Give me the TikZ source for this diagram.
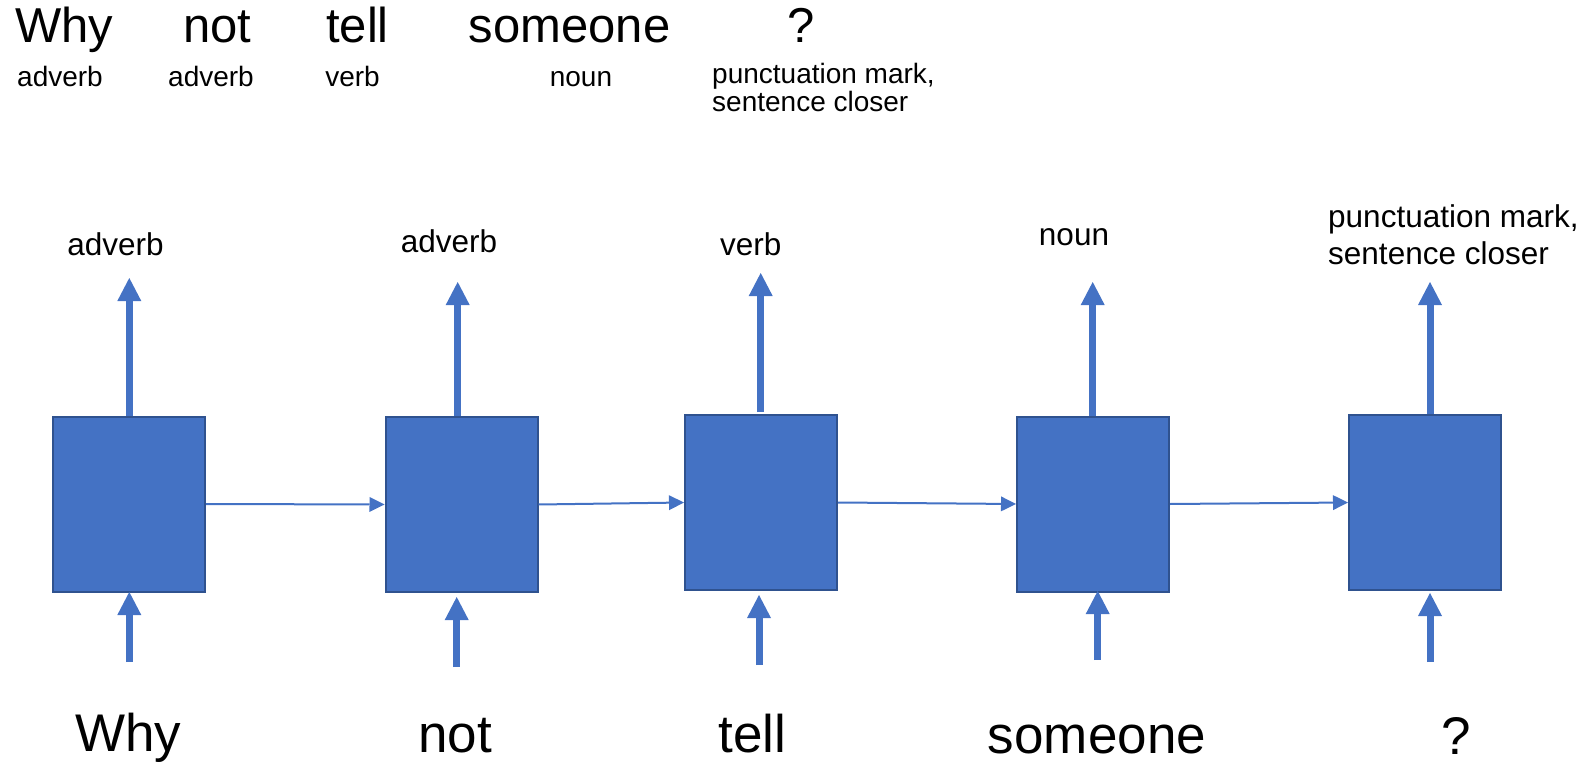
\documentclass[tikz,border=0pt]{standalone}
\usepackage{fontspec}
\setmainfont{Liberation Sans}
\usetikzlibrary{arrows.meta}
\definecolor{obl}{HTML}{4472C4}
\definecolor{oedge}{HTML}{2F528F}
\begin{document}
\begin{tikzpicture}[x=1pt,y=-1pt,
  cell/.style={draw=oedge,line width=2pt,fill=obl,minimum width=152pt,minimum height=175pt,inner sep=0pt},
  bigarrow/.style={draw=obl,line width=7pt,-{Triangle[length=23pt,width=24pt,line width=0pt]}},
  thinarrow/.style={draw=obl,line width=2pt,-{Triangle[length=15pt,width=15pt,line width=0pt]}},
  topword/.style={inner sep=0pt,anchor=base,font=\fontsize{49}{49}\selectfont},
  topsmall/.style={inner sep=0pt,anchor=base,font=\fontsize{28}{28}\selectfont},
  outlbl/.style={inner sep=0pt,anchor=base,font=\fontsize{31.5}{36}\selectfont},
  inword/.style={inner sep=0pt,anchor=base,font=\fontsize{53}{53}\selectfont}]
\useasboundingbox (0,0) rectangle (1585,762);

% top sentence
\node[topword] (tw1) at (64,43) {Why};
\node[topword] (tw2) at (217.5,43) {not};
\node[topword] (tw3) at (357.5,43) {tell};
\node[topword] (tw4) at (569.5,43) {someone};
\node[topword] (tw5) at (801,43) {?};
\node[topsmall] (ts1) at (60,87) {adverb};
\node[topsmall] (ts2) at (211,87) {adverb};
\node[topsmall] (ts3) at (352.5,87) {verb};
\node[topsmall] (ts4) at (581,87) {noun};
\node[topsmall,anchor=base west,align=left] (ts5) at (712,112) {punctuation mark,\\sentence closer};

% cells
\node[cell] (b1) at (129,504) {};
\node[cell] (b2) at (461.5,504.5) {};
\node[cell] (b3) at (761,502.5) {};
\node[cell] (b4) at (1093,504) {};
\node[cell] (b5) at (1425,502.5) {};

% output labels
\node[outlbl] (o1) at (115.5,255) {adverb};
\node[outlbl] (o2) at (449,252) {adverb};
\node[outlbl] (o3) at (750.7,255) {verb};
\node[outlbl] (o4) at (1074,245) {noun};
\node[outlbl,anchor=base west,align=left] (o5) at (1328,264) {punctuation mark,\\sentence closer};

% input words
\node[inword] (w1) at (128,751) {Why};
\node[inword] (w2) at (455,752) {not};
\node[inword] (w3) at (752.5,752) {tell};
\node[inword] (w4) at (1097,753) {someone};
\node[inword] (w5) at (1456,754) {?};

% arrow end points
\coordinate (u1) at (129.3,278);
\coordinate (u2) at (457.7,282);
\coordinate (u3) at (760.7,273);
\coordinate (u3s) at (760.7,412);
\coordinate (u4) at (1092.7,282);
\coordinate (u5) at (1430,282);
\coordinate (d1) at (129.3,662);  \coordinate (d1t) at (129.3,592);
\coordinate (d2) at (456.7,667);  \coordinate (d2t) at (456.7,597);
\coordinate (d3) at (759,665);    \coordinate (d3t) at (759,595);
\coordinate (d4) at (1097.7,660); \coordinate (d4t) at (1097.7,591);
\coordinate (d5) at (1430,662);   \coordinate (d5t) at (1430,593);

% outputs
\draw[bigarrow] (u1 |- b1.north) -- (u1);
\draw[bigarrow] (u2 |- b2.north) -- (u2);
\draw[bigarrow] (u3s) -- (u3);
\draw[bigarrow] (u4 |- b4.north) -- (u4);
\draw[bigarrow] (u5 |- b5.north) -- (u5);

% inputs
\draw[bigarrow] (d1) -- (d1t);
\draw[bigarrow] (d2) -- (d2t);
\draw[bigarrow] (d3) -- (d3t);
\draw[bigarrow] (d4) -- (d4t);
\draw[bigarrow] (d5) -- (d5t);

% recurrence
\draw[thinarrow] (b1.east) -- (b2.west);
\draw[thinarrow] (b2.east) -- (b3.west);
\draw[thinarrow] (b3.east) -- (b4.west);
\draw[thinarrow] (b4.east) -- (b5.west);
\end{tikzpicture}
\end{document}
